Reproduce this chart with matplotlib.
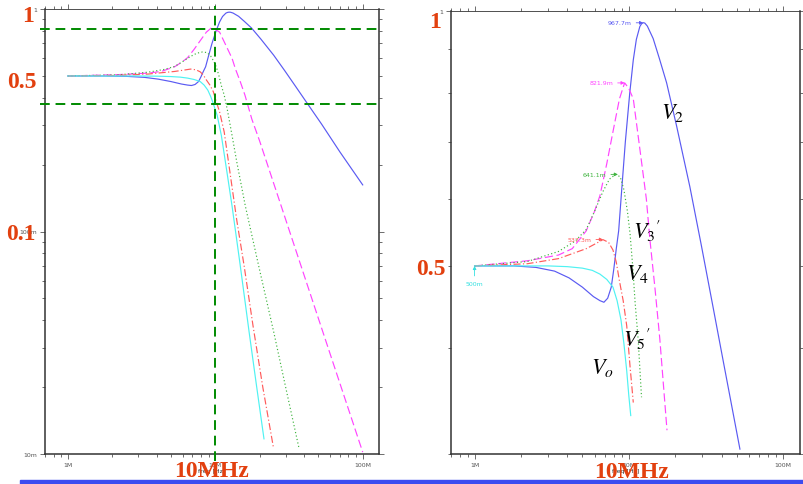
import matplotlib.pyplot as plt
from matplotlib.patches import Rectangle
from matplotlib.ticker import FixedLocator, FixedFormatter, NullFormatter
import numpy as np

plt.rcParams['mathtext.fontset'] = 'stix'

# node voltages of the ladder vs frequency in MHz
f_v2 = [1.0, 1.8, 2.5, 3.3, 4.1, 5.0, 5.9, 6.5, 6.9, 7.3, 7.7, 8.0, 8.3, 8.6, 9.0, 9.5,
        10.15, 10.7, 11.2, 11.8, 12.1, 12.4, 12.7, 13.2, 14.4, 15.8, 17.6, 20.4, 24.9,
        29.6, 35.3, 41.0, 52.6, 70.0, 100.0]
v2 = [0.500, 0.500, 0.498, 0.493, 0.484, 0.472, 0.460, 0.455, 0.453, 0.458, 0.472, 0.496,
      0.524, 0.550, 0.615, 0.700, 0.800, 0.875, 0.925, 0.958, 0.965, 0.968, 0.967, 0.959,
      0.927, 0.878, 0.822, 0.732, 0.620, 0.528, 0.446, 0.386, 0.304, 0.228, 0.162]

f_v3 = [1.0, 2.2, 3.5, 4.3, 5.3, 6.0, 6.5, 7.2, 7.9, 8.7, 9.4, 10.0, 10.7, 11.8, 13.0,
        13.7, 14.8, 15.9, 17.7, 20.0, 27.5, 43.3, 60.0, 100.0]
v3 = [0.500, 0.507, 0.515, 0.524, 0.550, 0.580, 0.605, 0.660, 0.720, 0.787, 0.822, 0.810,
      0.787, 0.687, 0.600, 0.538, 0.470, 0.410, 0.320, 0.255, 0.135, 0.0544, 0.0283, 0.0102]

f_v4 = [1.0, 2.2, 3.5, 4.5, 5.3, 6.0, 6.8, 7.5, 8.2, 8.8, 9.3, 9.8, 10.2, 10.6, 11.0,
        11.5, 12.1, 13.0, 14.0, 16.0, 19.8, 25.0, 30.0, 37.0]
v4 = [0.500, 0.506, 0.520, 0.535, 0.552, 0.580, 0.612, 0.633, 0.641, 0.637, 0.615, 0.580,
      0.545, 0.500, 0.452, 0.410, 0.350, 0.270, 0.205, 0.130, 0.069, 0.035, 0.020, 0.0106]

f_v5 = [1.0, 2.2, 3.5, 5.3, 6.2, 6.8, 7.4, 7.9, 8.3, 8.7, 9.2, 9.7, 10.2, 10.7, 11.5,
        12.5, 14.0, 15.7, 18.0, 21.0, 24.8]
v5 = [0.500, 0.503, 0.510, 0.524, 0.532, 0.537, 0.533, 0.522, 0.505, 0.480, 0.455, 0.425,
      0.380, 0.345, 0.280, 0.190, 0.112, 0.070, 0.038, 0.020, 0.0107]

f_vo = [1.0, 2.0, 3.0, 4.0, 5.0, 5.8, 6.5, 7.2, 7.9, 8.4, 8.9, 9.3, 9.7, 10.0, 10.3,
        11.0, 12.0, 13.0, 14.7, 17.0, 19.0, 21.4]
vo = [0.500, 0.500, 0.500, 0.499, 0.497, 0.494, 0.489, 0.482, 0.472, 0.455, 0.432, 0.405,
      0.376, 0.352, 0.333, 0.270, 0.185, 0.130, 0.072, 0.035, 0.0205, 0.0117]

# last frequency (MHz) of each trace in the zoomed sweep on the right
right_stop = [52.6, 17.7, 12.1, 10.7, 10.3]

# peak markers of the zoomed sweep
peak_f = [12.4, 9.4, 8.5, 6.8]
peak_v = [0.9677, 0.8219, 0.6411, 0.5373]

curves = [(f_v2, v2, '#5a5af2', '-'),
          (f_v3, v3, '#ff44ff', (0, (7, 3))),
          (f_v4, v4, '#3fb43f', (0, (1, 2))),
          (f_v5, v5, '#ff5a5a', (0, (6, 2, 1, 2))),
          (f_vo, vo, '#4ff2f2', '-')]

W, H = 804, 485
fig = plt.figure(figsize=(W / 100, H / 100), dpi=100)
fig.patch.set_facecolor('white')

axL = fig.add_axes([45 / W, 30 / H, 334 / W, 445 / H])
axR = fig.add_axes([450.7 / W, 30 / H, 349.3 / W, 443.3 / H])


def style_axes(ax, ymaj, ylab, ylim):
    ax.set_xscale('log')
    ax.set_yscale('log')
    ax.set_xlim(0.70, 129)
    ax.set_ylim(*ylim)
    ax.xaxis.set_major_locator(FixedLocator([1, 10, 100]))
    ax.xaxis.set_major_formatter(FixedFormatter(['1M', '10M', '100M']))
    ax.xaxis.set_minor_locator(FixedLocator([d * s for d in (0.1, 1, 10, 100) for s in range(2, 10)]))
    ax.xaxis.set_minor_formatter(NullFormatter())
    ax.yaxis.set_major_locator(FixedLocator(ymaj))
    ax.yaxis.set_major_formatter(FixedFormatter(ylab))
    ax.yaxis.set_minor_locator(FixedLocator([d * s for d in (0.01, 0.1) for s in range(2, 10)]))
    ax.yaxis.set_minor_formatter(NullFormatter())
    ax.tick_params(which='both', direction='out', top=True, right=True, colors='#555555',
                   labelsize=4.5, width=0.6, pad=2)
    ax.tick_params(which='major', length=3.5)
    ax.tick_params(which='minor', length=2)
    for side, sp in ax.spines.items():
        sp.set_color('#333333')
        sp.set_linewidth(0.6 if side == 'top' else 1.1)
    ax.set_xlabel('freq [Hz]', fontsize=4.5, labelpad=1, color='#333333')


style_axes(axL, [0.01, 0.1, 1], ['10m', '100m', '1'], (0.01, 1.0))
style_axes(axR, [1], ['1'], (0.3, 1.0))

for (f, v, c, ls), stop in zip(curves, right_stop):
    f = np.array(f)
    v = np.array(v)
    axL.plot(f, v, color=c, ls=ls, lw=0.85)
    keep = f <= stop
    axR.plot(f[keep], v[keep], color=c, ls=ls, lw=0.85)

# guide lines on the left sweep
gl = dict(color='#008a00', lw=1.4, dashes=(5, 3), clip_on=False, zorder=5)
axL.axvline(10, ymin=-0.016, ymax=1.006, **gl)
axL.axhline(0.813, xmin=-0.015, xmax=1.003, **gl)
axL.axhline(0.374, xmin=-0.015, xmax=1.003, **gl)

# peak read-outs
for f, v, (_, _, c, _) in zip(peak_f, peak_v, curves):
    axR.annotate(f'{v * 1000:.1f}m', xy=(f, v), xytext=(-8, 0), textcoords='offset points',
                 fontsize=4.5, color=c, ha='right', va='center',
                 arrowprops=dict(arrowstyle='-|>', color=c, lw=0.6, mutation_scale=5,
                                 shrinkA=1, shrinkB=0))
axR.annotate('500m', xy=(1.0, 0.5), xytext=(0, -13), textcoords='offset points',
             fontsize=4.5, color='#33e0e0', ha='center', va='center',
             arrowprops=dict(arrowstyle='-|>', color='#33e0e0', lw=0.6, mutation_scale=5,
                             shrinkA=2, shrinkB=0))

# node names
lab = dict(fontsize=16, color='black', ha='center', va='center')
axR.text(19.2, 0.760, r'$V_2$', **lab)
axR.text(13.2, 0.551, r'$V_3{}^{\prime}$', **lab)
axR.text(11.4, 0.491, r'$V_4$', **lab)
axR.text(11.3, 0.411, r'$V_5{}^{\prime}$', **lab)
axR.text(6.76, 0.380, r'$V_o$', **lab)

# slide annotations
big = dict(fontsize=17, color='#e2400f', fontweight='bold', family='Liberation Serif',
           ha='center', va='baseline', zorder=10)
for x, y, s in [(28, 22, '1'), (22, 88, '0.5'), (21, 240, '0.1'), (435, 28, '1'),
                (431, 275, '0.5'), (212, 477, '10MHz'), (632, 478, '10MHz')]:
    fig.text(x / W, 1 - y / H, s, **big)

fig.add_artist(Rectangle((20 / W, 0), 1, 4 / H, transform=fig.transFigure,
                         color='#3c4cf0', zorder=10))

fig.savefig('out.png', dpi=100)
